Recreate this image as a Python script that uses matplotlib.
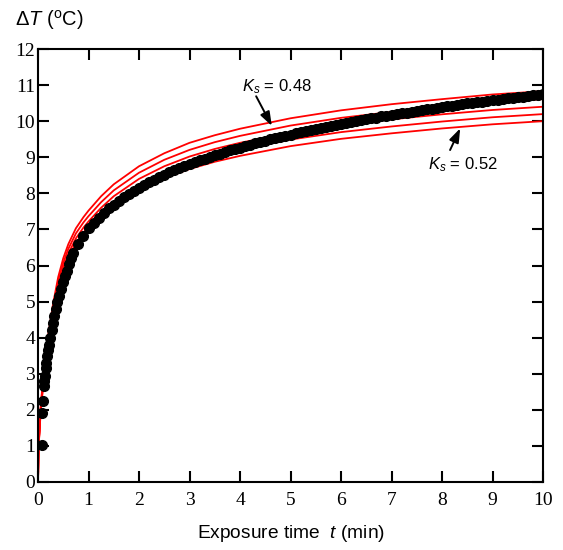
import matplotlib
matplotlib.use("Agg")
import matplotlib.pyplot as plt

plt.rcParams['mathtext.fontset'] = 'custom'
plt.rcParams['mathtext.rm'] = 'Liberation Sans'
plt.rcParams['mathtext.it'] = 'Liberation Sans:italic'

# Model curves (red), one per Ks value
ks_values = [0.48, 0.49, 0.50, 0.51, 0.52]
t_model = [0, 0.01, 0.02, 0.05, 0.1, 0.15, 0.2, 0.3, 0.4, 0.5, 0.6, 0.75, 0.9, 1.0,
           1.25, 1.5, 2, 2.5, 3, 3.5, 4, 5, 6, 7, 8, 9, 10]
T_ks048 = [0, 0.885, 1.25, 2.03, 2.865, 3.54, 4.06, 4.95, 5.68, 6.20, 6.59, 7.03, 7.34, 7.52,
           7.92, 8.25, 8.75, 9.11, 9.40, 9.61, 9.79, 10.08, 10.30, 10.47, 10.61, 10.74, 10.83]
T_ks049 = [0, 0.867, 1.224, 1.99, 2.806, 3.469, 3.98, 4.847, 5.561, 6.071, 6.459, 6.888, 7.194, 7.367,
           7.755, 8.082, 8.571, 8.929, 9.204, 9.418, 9.592, 9.878, 10.092, 10.255, 10.398, 10.52, 10.612]
T_ks050 = [0, 0.85, 1.2, 1.95, 2.75, 3.4, 3.9, 4.75, 5.45, 5.95, 6.33, 6.75, 7.05, 7.22,
           7.6, 7.92, 8.4, 8.75, 9.02, 9.23, 9.4, 9.68, 9.89, 10.05, 10.19, 10.31, 10.4]
T_ks051 = [0, 0.833, 1.176, 1.912, 2.696, 3.333, 3.824, 4.657, 5.343, 5.833, 6.206, 6.618, 6.912, 7.078,
           7.451, 7.765, 8.235, 8.578, 8.843, 9.049, 9.216, 9.49, 9.696, 9.853, 9.99, 10.108, 10.196]
T_ks052 = [0, 0.817, 1.154, 1.875, 2.644, 3.269, 3.75, 4.567, 5.24, 5.721, 6.087, 6.49, 6.779, 6.942,
           7.308, 7.615, 8.077, 8.413, 8.673, 8.875, 9.038, 9.308, 9.51, 9.663, 9.798, 9.913, 10.0]
model_curves = [T_ks048, T_ks049, T_ks050, T_ks051, T_ks052]

# Measured data (black dots)
t_data = [0.07, 0.085, 0.1, 0.11, 0.12, 0.135, 0.15, 0.165, 0.18, 0.2, 0.22, 0.245, 0.27, 0.295,
          0.32, 0.35, 0.38, 0.41, 0.45, 0.49, 0.53, 0.57, 0.62, 0.66,
          0.7, 0.8, 0.9, 1.0, 1.1, 1.2, 1.3, 1.4, 1.5, 1.6, 1.7, 1.8, 1.9, 2.0,
          2.1, 2.2, 2.3, 2.4, 2.5, 2.6, 2.7, 2.8, 2.9, 3.0, 3.1, 3.2, 3.3, 3.4, 3.5,
          3.6, 3.7, 3.8, 3.9, 4.0, 4.1, 4.2, 4.3, 4.4, 4.5, 4.6, 4.7, 4.8, 4.9, 5.0,
          5.1, 5.2, 5.3, 5.4, 5.5, 5.6, 5.7, 5.8, 5.9, 6.0, 6.1, 6.2, 6.3, 6.4, 6.5,
          6.6, 6.7, 6.8, 6.9, 7.0, 7.1, 7.2, 7.3, 7.4, 7.5, 7.6, 7.7, 7.8, 7.9, 8.0,
          8.1, 8.2, 8.3, 8.4, 8.5, 8.6, 8.7, 8.8, 8.9, 9.0, 9.1, 9.2, 9.3, 9.4, 9.5,
          9.6, 9.7, 9.8, 9.9, 10.0]
T_data = [1.02, 1.9, 2.25, 2.65, 2.8, 2.95, 3.15, 3.3, 3.5, 3.65, 3.8, 4.0, 4.2, 4.4,
          4.6, 4.8, 5.0, 5.15, 5.35, 5.55, 5.7, 5.85, 6.05, 6.2,
          6.35, 6.6, 6.83, 7.03, 7.19, 7.33, 7.46, 7.58, 7.69, 7.79, 7.89, 7.98, 8.07, 8.15,
          8.23, 8.31, 8.38, 8.45, 8.51, 8.58, 8.64, 8.70, 8.75, 8.81, 8.86, 8.91, 8.96, 9.01, 9.06,
          9.10, 9.15, 9.19, 9.23, 9.27, 9.31, 9.35, 9.39, 9.43, 9.46, 9.50, 9.53, 9.57, 9.60, 9.63,
          9.66, 9.70, 9.73, 9.76, 9.79, 9.81, 9.84, 9.87, 9.90, 9.93, 9.95, 9.98, 10.00, 10.03, 10.06,
          10.08, 10.10, 10.13, 10.15, 10.17, 10.20, 10.22, 10.24, 10.26, 10.29, 10.31, 10.33, 10.35, 10.37, 10.39,
          10.41, 10.43, 10.45, 10.47, 10.49, 10.51, 10.53, 10.54, 10.56, 10.58, 10.60, 10.62, 10.63, 10.65, 10.67,
          10.68, 10.70, 10.72, 10.73, 10.75]

x_ticks = [0, 1, 2, 3, 4, 5, 6, 7, 8, 9, 10]
y_ticks = [0, 1, 2, 3, 4, 5, 6, 7, 8, 9, 10, 11, 12]

fig = plt.figure(figsize=(5.63, 5.5), dpi=100)
ax = fig.add_axes([38/563, 1-482/550, (543-38)/563, (482-49)/550])

for T in model_curves:
    ax.plot(t_model, T, color='#ff0000', lw=1.3, zorder=2)
ax.plot(t_data, T_data, 'o', color='black', ms=7, mec='black', zorder=3)

ax.set_xlim(0, 10)
ax.set_ylim(0, 12)
ax.set_xticks(x_ticks)
ax.set_yticks(y_ticks)
for lab in ax.get_xticklabels() + ax.get_yticklabels():
    lab.set_fontfamily('Liberation Serif')
    lab.set_fontsize(14)
ax.tick_params(direction='in', length=8, width=1.5, top=True, right=True, color='black')
ax.tick_params(axis='x', pad=7)
ax.tick_params(axis='y', pad=2)
for sp in ax.spines.values():
    sp.set_linewidth(1.5)

fig.text(15/563, 1-20/550, r'Δ$T$ ($^{\mathrm{o}}$C)', fontsize=14.5,
         family='Liberation Sans', ha='left', va='center')
ax.set_xlabel(r'Exposure time  $t$ (min)', fontsize=13.8, family='Liberation Sans', labelpad=10)

ax.text(4.04, 10.97, r'$K_s$ = 0.48', fontsize=12, family='Liberation Sans', ha='left', va='center')
ax.text(7.72, 8.8, r'$K_s$ = 0.52', fontsize=12, family='Liberation Sans', ha='left', va='center')
arrow_kw = dict(arrowstyle='-|>,head_length=0.7,head_width=0.25', color='black', lw=1.4,
                mutation_scale=12, shrinkA=0, shrinkB=0)
ax.annotate('', xy=(4.63, 9.87), xytext=(4.32, 10.69), arrowprops=arrow_kw)
ax.annotate('', xy=(8.36, 9.80), xytext=(8.16, 9.2), arrowprops=arrow_kw)

fig.savefig('out.png', dpi=100)
